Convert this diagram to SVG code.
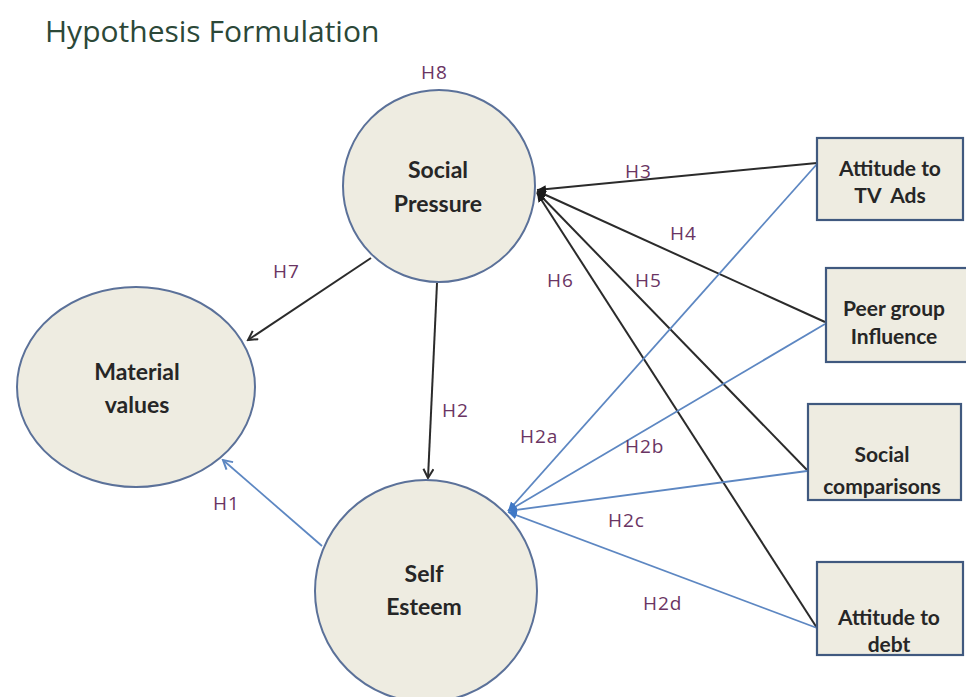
<svg xmlns="http://www.w3.org/2000/svg" width="966" height="697" viewBox="0 0 966 697">
  <defs>
    <style>
      .title { font-family: "Open Sans", "Noto Sans", sans-serif; font-size: 30px; fill: #2c4838; }
      .node { fill: #eeece1; stroke: #5b7199; stroke-width: 2; }
      .box { fill: #eeece1; stroke: #40597f; stroke-width: 2.2; }
      .lbl { font-family: Lato, "Liberation Sans", sans-serif; font-weight: bold; font-size: 23px; fill: #262626; text-anchor: middle; }
      .blbl { font-family: Lato, "Liberation Sans", sans-serif; font-weight: bold; font-size: 21px; fill: #262626; text-anchor: middle; }
      .h { font-family: "Open Sans", "Noto Sans", sans-serif; font-size: 19px; letter-spacing: 1px; fill: #6a3463; }
      .blk { stroke: #2b2b2b; stroke-width: 2; fill: none; }
      .blu { stroke: #5d87c2; stroke-width: 1.8; fill: none; }
    </style>
    <marker id="vBlack" markerWidth="12" markerHeight="12" refX="10" refY="6" orient="auto" markerUnits="userSpaceOnUse">
      <path d="M1,1 L10,6 L1,11" fill="none" stroke="#2b2b2b" stroke-width="2"/>
    </marker>
    <marker id="vBlue" markerWidth="12" markerHeight="12" refX="10" refY="6" orient="auto" markerUnits="userSpaceOnUse">
      <path d="M1,1 L10,6 L1,11" fill="none" stroke="#5d87c2" stroke-width="2"/>
    </marker>
    <marker id="tBlack" markerWidth="10" markerHeight="10" refX="9" refY="5" orient="auto" markerUnits="userSpaceOnUse">
      <path d="M0,1 L9,5 L0,9 Z" fill="#1a1a1a"/>
    </marker>
    <marker id="tBlue" markerWidth="10" markerHeight="10" refX="9" refY="5" orient="auto" markerUnits="userSpaceOnUse">
      <path d="M0,1 L9,5 L0,9 Z" fill="#3f78c6"/>
    </marker>
  </defs>

  <rect width="966" height="697" fill="#ffffff"/>

  <text class="title" x="45" y="42">Hypothesis Formulation</text>

  <!-- connectors -->
  <g id="connectors">
    <!-- paths into Social Pressure -->
    <line class="blk" x1="817" y1="163" x2="537" y2="190" marker-end="url(#tBlack)"/>
    <line class="blk" x1="825" y1="322" x2="537" y2="191" marker-end="url(#tBlack)"/>
    <line class="blk" x1="807" y1="470" x2="537" y2="192" marker-end="url(#tBlack)"/>
    <line class="blk" x1="817" y1="628" x2="537" y2="193" marker-end="url(#tBlack)"/>
    <!-- paths into Self Esteem -->
    <line class="blu" x1="817" y1="164" x2="508" y2="511" marker-end="url(#tBlue)"/>
    <line class="blu" x1="825" y1="324" x2="508" y2="511" marker-end="url(#tBlue)"/>
    <line class="blu" x1="807" y1="471" x2="508" y2="511" marker-end="url(#tBlue)"/>
    <line class="blu" x1="817" y1="628" x2="508" y2="512" marker-end="url(#tBlue)"/>
    <!-- H7, H2, H1 -->
    <line class="blk" x1="371" y1="258" x2="248" y2="340" marker-end="url(#vBlack)"/>
    <line class="blk" x1="437" y1="283" x2="428" y2="478" marker-end="url(#vBlack)"/>
    <line class="blu" x1="322" y1="546" x2="223" y2="460" marker-end="url(#vBlue)"/>
  </g>

  <g id="social-pressure">
    <circle class="node" cx="439" cy="186" r="96"/>
    <text class="lbl" x="438" y="178">Social</text>
    <text class="lbl" x="438" y="212">Pressure</text>
  </g>

  <g id="material-values">
    <ellipse class="node" cx="136" cy="387" rx="119" ry="100"/>
    <text class="lbl" x="137" y="380">Material</text>
    <text class="lbl" x="137" y="413">values</text>
  </g>

  <g id="self-esteem">
    <circle class="node" cx="426" cy="591" r="111"/>
    <text class="lbl" x="424" y="582">Self</text>
    <text class="lbl" x="424" y="615">Esteem</text>
  </g>

  <g id="tv-ads">
    <rect class="box" x="817" y="138" width="146" height="82"/>
    <text class="blbl" x="890" y="176">Attitude to</text>
    <text class="blbl" x="890" y="203" xml:space="preserve">TV  Ads</text>
  </g>

  <g id="peer-group">
    <rect class="box" x="826" y="268" width="142" height="94"/>
    <text class="blbl" x="894" y="316">Peer group</text>
    <text class="blbl" x="894" y="344">Influence</text>
  </g>

  <g id="social-comparisons">
    <rect class="box" x="808" y="404" width="153" height="96"/>
    <text class="blbl" x="882" y="462">Social</text>
    <text class="blbl" x="882" y="494">comparisons</text>
  </g>

  <g id="attitude-debt">
    <rect class="box" x="817" y="562" width="146" height="93"/>
    <text class="blbl" x="889" y="625">Attitude to</text>
    <text class="blbl" x="889" y="652">debt</text>
  </g>

  <!-- hypothesis labels -->
  <g id="labels">
    <text class="h" x="421" y="79">H8</text>
    <text class="h" x="625" y="178">H3</text>
    <text class="h" x="670" y="240">H4</text>
    <text class="h" x="273" y="278">H7</text>
    <text class="h" x="547" y="287">H6</text>
    <text class="h" x="635" y="287">H5</text>
    <text class="h" x="442" y="417">H2</text>
    <text class="h" x="520" y="443">H2a</text>
    <text class="h" x="625" y="453">H2b</text>
    <text class="h" x="608" y="527">H2c</text>
    <text class="h" x="213" y="510">H1</text>
    <text class="h" x="643" y="610">H2d</text>
  </g>
</svg>
